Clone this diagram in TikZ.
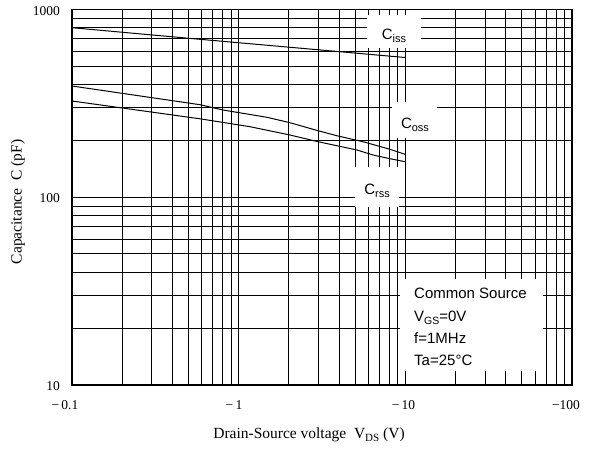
\documentclass[tikz,border=0pt]{standalone}
\usepackage{fontspec}
\setmainfont{Liberation Serif}
\newfontfamily\lsans{Liberation Sans}
\newcommand\lowsub[1]{\raisebox{-0.4ex}{\fontsize{11}{11}\selectfont #1}}
\newcommand\lowsubs[1]{\raisebox{-0.4ex}{\fontsize{10.5}{10.5}\selectfont #1}}
\begin{document}
\begin{tikzpicture}[x=1pt,y=-1pt,
  gridline/.style={black,line width=0.7pt},
  frame/.style={black,line width=1.2pt},
  curve/.style={black,line width=1pt,line join=round},
  mask/.style={fill=white,draw=none},
  lbl/.style={font=\lsans\fontsize{15}{17}\selectfont,inner sep=0pt},
  tick/.style={font=\fontsize{13.5}{15}\selectfont,inner sep=0pt},
  axtitle/.style={font=\fontsize{15.5}{17}\selectfont,inner sep=0pt}]
\useasboundingbox[fill=white] (0,0) rectangle (591,448);
% grid
\foreach \d in {0,1,2}{
  \foreach \m in {1,...,9}{
    \pgfmathsetmacro\gx{72+166.667*(\d+log10(\m))}
    \draw[gridline] (\gx,9.5) -- (\gx,385);
  }
}
\foreach \d in {0,1}{
  \foreach \m in {1,...,9}{
    \pgfmathsetmacro\gy{385-187.75*(\d+log10(\m))}
    \draw[gridline] (72,\gy) -- (572,\gy);
  }
}
% masks
\fill[mask] (367,15) rectangle (421,48);
\fill[mask] (392,102) rectangle (437,138);
\fill[mask] (355,167) rectangle (399,207);
\fill[mask] (400,279) rectangle (543,371);
% frame
\draw[frame] (72,9.5) rectangle (572,385);
% curves
\coordinate (cia) at (72,27.7);
\coordinate (cib) at (405,57.5);
\draw[curve] (cia) -- (200,39.3) -- (340,51.7) -- (cib);
\coordinate (coa) at (72,86);
\coordinate (cob) at (405,154.3);
\draw[curve] (coa) -- (200,104.7) -- (223,110) -- (267,117.3) -- (290,122.7) -- (318,130.7) -- (338,136) -- (363,141.7) -- (390,149.3) -- (cob);
\coordinate (cra) at (72,101);
\coordinate (crb) at (405,161.7);
\draw[curve] (cra) -- (200,118.8) -- (250,126.7) -- (290,135) -- (318,141.7) -- (357,150) -- (373,155) -- (390,158.7) -- (crb);
% curve labels
\node[lbl] (ciss) at (394,36) {C\lowsub{iss}};
\node[lbl] (coss) at (415,125) {C\lowsub{oss}};
\node[lbl] (crss) at (377,191) {C\lowsub{rss}};
% legend
\node[lbl,anchor=base west] (leg1) at (414,298) {Common Source};
\node[lbl,anchor=base west] (leg2) at (414,321) {V\lowsubs{GS}=0V};
\node[lbl,anchor=base west] (leg3) at (414,343.5) {f=1MHz};
\node[lbl,anchor=base west] (leg4) at (414,365) {Ta=25°C};
% y ticks
\node[tick,anchor=east] (y1000) at (60,11) {1000};
\node[tick,anchor=east] (y100) at (60,198) {100};
\node[tick,anchor=east] (y10) at (60,386) {10};
% x ticks
\node[tick] (x01) at (65,405) {−\,0.1};
\node[tick] (x1) at (234,405) {−\,1};
\node[tick] (x10) at (403.5,405) {−\,10};
\node[tick] (x100) at (566,405) {−100};
% axis titles
\node[axtitle] (xt) at (309,435) {Drain-Source voltage\ \ V\lowsub{DS} (V)};
\node[axtitle,rotate=90] (yt) at (18,202) {Capacitance\ \ C (pF)};
\end{tikzpicture}
\end{document}
